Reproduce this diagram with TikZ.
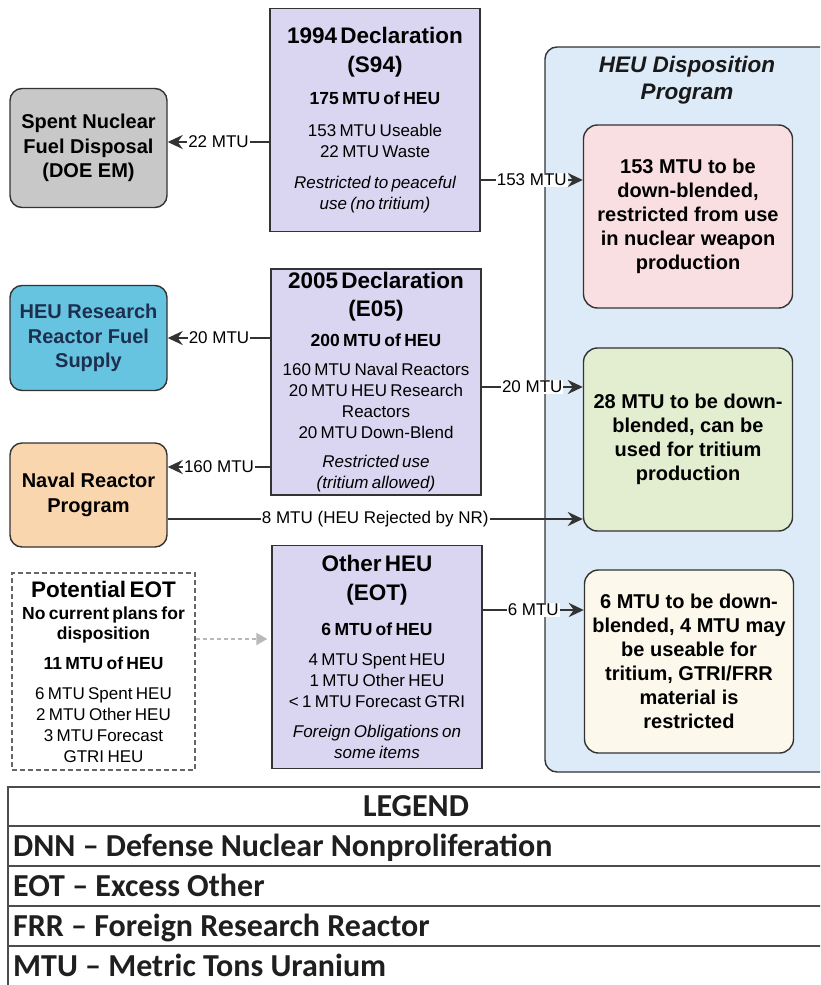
\documentclass[tikz,border=0pt]{standalone}
\usepackage{fontspec}
\setmainfont{Liberation Sans}
\newfontfamily\legendfont{Carlito}
\usetikzlibrary{positioning,calc,arrows.meta}
\setlength{\parindent}{0pt}
\setlength{\parskip}{0pt}
\definecolor{declfill}{HTML}{DAD6F1}
\definecolor{dispfill}{HTML}{DDEAF7}
\definecolor{pinkfill}{HTML}{F9DFE2}
\definecolor{greenfill}{HTML}{E3EDCF}
\definecolor{creamfill}{HTML}{FDF8EC}
\definecolor{snfgray}{HTML}{C8C8C8}
\definecolor{rrblue}{HTML}{66C4E0}
\definecolor{navalpeach}{HTML}{FAD6AE}
\definecolor{rrnavy}{HTML}{1D2F4F}
\definecolor{edgegray}{HTML}{333333}
\newcommand{\declttl}{\fontsize{22.5}{28.5}\selectfont\bfseries}
\newcommand{\declhd}{\fontsize{17.5}{21}\selectfont\bfseries}
\newcommand{\decltxt}{\fontsize{17}{21}\selectfont}

\begin{document}
\begin{tikzpicture}[x=1pt,y=-1pt,
  declbox/.style={draw=edgegray,line width=1.4pt,fill=declfill,text width=202pt,
    align=center,minimum width=210pt,minimum height=223pt,inner sep=3pt},
  sidebox/.style={draw=edgegray,line width=1.4pt,rounded corners=12pt,align=center,
    minimum width=157pt,font=\fontsize{20}{24.5}\selectfont\bfseries},
  resultbox/.style={draw=edgegray,line width=1.4pt,rounded corners=14pt,align=center,
    minimum width=209pt,minimum height=183pt,font=\fontsize{20}{24}\selectfont\bfseries},
  potbox/.style={draw=gray!80!black,line width=1.2pt,dash pattern=on 5pt off 3pt,fill=white,
    text width=177pt,align=center,minimum width=183pt,minimum height=197pt,inner sep=3pt},
  flow/.style={draw=edgegray,line width=2.8pt,-{Stealth[length=15pt,width=14pt,inset=5pt]}},
  maybeflow/.style={draw=gray!55,line width=2pt,dash pattern=on 4pt off 3pt,
    -{Triangle[length=11pt,width=12pt,fill=gray!55]}},
  flowlbl/.style={fill=white,inner sep=1pt,font=\fontsize{17}{20}\selectfont},
  legline/.style={draw=black!70,line width=1.6pt},
  legtxt/.style={inner sep=0pt,text=black!88,font=\legendfont\fontsize{32}{36}\selectfont\bfseries}]

  \useasboundingbox (0,0) rectangle (820,985);
  \clip (0,0) rectangle (820,985);

  % HEU Disposition Program frame
  \draw[edgegray,line width=1.4pt,fill=dispfill,rounded corners=12pt] (545,47) rectangle (845,772);
  \node[font=\fontsize{22.5}{26.5}\selectfont\bfseries\itshape,text=black!90,align=center]
    (disptitle) at (687,80) {HEU Disposition\\Program};

  % declarations
  \node[declbox] (s94) at (375,120) {%
    {\declttl 1994 Declaration\\(S94)\par}\vspace{11pt}%
    {\declhd 175 MTU of HEU\par}\vspace{11pt}%
    {\decltxt 153 MTU Useable\\22 MTU Waste\par}\vspace{10pt}%
    {\decltxt\itshape Restricted to peaceful\\use (no tritium)\par}};
  \node[declbox] (e05) at (376,382) {%
    {\declttl 2005 Declaration\\(E05)\par}\vspace{8.5pt}%
    {\declhd 200 MTU of HEU\par}\vspace{8pt}%
    {\decltxt 160 MTU Naval Reactors\\20 MTU HEU Research\\Reactors\\20 MTU Down-Blend\par}\vspace{8pt}%
    {\decltxt\itshape Restricted use\\(tritium allowed)\par}};
  \node[declbox] (eot) at (377,657) {%
    {\declttl Other HEU\\(EOT)\par}\vspace{14pt}%
    {\declhd 6 MTU of HEU\par}\vspace{9pt}%
    {\decltxt 4 MTU Spent HEU\\1 MTU Other HEU\\< 1 MTU Forecast GTRI\par}\vspace{9pt}%
    {\decltxt\itshape Foreign Obligations on\\some items\par}};

  % receivers on the left
  \node[sidebox,fill=snfgray,minimum height=119pt] (snf) at (88.5,148)
    {Spent Nuclear\\Fuel Disposal\\(DOE EM)};
  \node[sidebox,fill=rrblue,text=rrnavy,minimum height=105pt] (heurr) at (88.5,338)
    {HEU Research\\Reactor Fuel\\Supply};
  \node[sidebox,fill=navalpeach,minimum height=104pt] (naval) at (88.5,495)
    {Naval Reactor\\Program};
  \node[potbox] (pot) at (103.5,671.5) {%
    {\declttl Potential EOT\par}\vspace{2pt}%
    {\fontsize{17.5}{20}\selectfont\bfseries No current plans for\\disposition\par}\vspace{9pt}%
    {\declhd 11 MTU of HEU\par}\vspace{9pt}%
    {\decltxt 6 MTU Spent HEU\\2 MTU Other HEU\\3 MTU Forecast\\GTRI HEU\par}};

  % down-blend outcomes
  \node[resultbox,fill=pinkfill] (dbweap) at (688,216.5)
    {153 MTU to be\\down-blended,\\restricted from use\\in nuclear weapon\\production};
  \node[resultbox,fill=greenfill] (dbtrit) at (688,439.5)
    {28 MTU to be down-\\blended, can be\\used for tritium\\production};
  \node[resultbox,fill=creamfill] (dbother) at (689,661.5)
    {6 MTU to be down-\\blended, 4 MTU may\\be useable for\\tritium, GTRI/FRR\\material is\\restricted};

  % flows
  \coordinate (snfin) at ([yshift=6pt]snf.east);
  \draw[flow] (s94.west |- snfin) -- (snfin) node[flowlbl,midway] {22 MTU};
  \coordinate (weapin) at ([yshift=36.5pt]dbweap.west);
  \draw[flow] (s94.east |- weapin) -- (weapin) node[flowlbl,midway] {153 MTU};
  \draw[flow] (e05.west |- heurr.east) -- (heurr.east) node[flowlbl,midway] {20 MTU};
  \coordinate (tritin) at ([yshift=52.5pt]dbtrit.west);
  \draw[flow] (e05.east |- tritin) -- (tritin) node[flowlbl,midway] {20 MTU};
  \coordinate (navalin) at ([yshift=28pt]naval.east);
  \draw[flow] (e05.west |- navalin) -- (navalin) node[flowlbl,midway] {160 MTU};
  \coordinate (navalout) at ([yshift=-24pt]naval.east);
  \draw[flow] (navalout) -- (navalout -| dbtrit.west)
    node[flowlbl,midway] {8 MTU (HEU Rejected by NR)};
  \coordinate (otherin) at ([yshift=51.5pt]dbother.west);
  \draw[flow] (eot.east |- otherin) -- (otherin) node[flowlbl,midway] {6 MTU};
  \coordinate (potout) at ([yshift=32.5pt]pot.east);
  \draw[maybeflow] (potout) -- ([xshift=-4pt]potout -| eot.west);

  % legend
  \draw[legline,fill=white] (8,787) rectangle (845,1000);
  \foreach \yy in {826,866,906,946}
    \draw[legline] (8,\yy) -- (845,\yy);
  \node[legtxt,anchor=base] (legend) at (416,816) {LEGEND};
  \node[legtxt,anchor=base west] (dnn) at (13,856) {DNN – Defense Nuclear Nonproliferation};
  \node[legtxt,anchor=base west] (eotdef) at (13,896) {EOT – Excess Other};
  \node[legtxt,anchor=base west] (frr) at (13,936) {FRR – Foreign Research Reactor};
  \node[legtxt,anchor=base west] (mtu) at (13,976) {MTU – Metric Tons Uranium};
\end{tikzpicture}
\end{document}
